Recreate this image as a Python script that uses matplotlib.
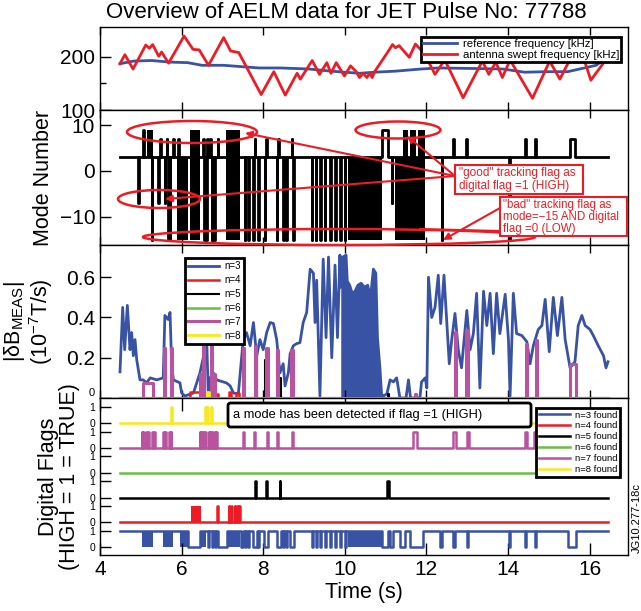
import numpy as np
import matplotlib
matplotlib.use("Agg")
import matplotlib.pyplot as plt
from matplotlib.patches import Ellipse, FancyArrowPatch, FancyBboxPatch

plt.rcParams['font.family'] = ['Liberation Sans', 'DejaVu Sans']
plt.rcParams['mathtext.fontset'] = 'custom'
plt.rcParams['mathtext.rm'] = 'Liberation Sans'
plt.rcParams['mathtext.it'] = 'Liberation Sans:italic'

BLUE = "#3953a4"
RED = "#ed1c24"
GREEN = "#6abd45"
MAGENTA = "#b9529f"
YELLOW = "#f7e91b"

t_first, t_last = 4.49, 16.45

# ---- panel 1: frequencies [kHz]
ref_t = [4.49, 4.83, 5.27, 5.71, 6.15, 6.50, 7.03, 7.55, 7.90, 8.43, 9.13, 9.66,
         10.36, 10.72, 11.24, 11.86, 12.30, 13.18, 13.88, 14.41, 14.93, 15.46,
         15.81, 16.16, 16.45]
ref_f = [187, 192, 193, 190, 189, 184, 184, 181, 179, 179, 177, 173,
         169, 171, 173, 177, 179, 178, 177, 171, 172, 172,
         178, 184, 200]
swp_t = [4.49, 4.61, 4.81, 5.12, 5.21, 5.29, 5.44, 5.51, 5.68, 6.06, 6.28, 6.43,
         6.66, 7.03, 7.20, 7.40, 7.95, 8.26, 8.54, 8.83, 8.91, 9.20, 9.38, 9.56,
         9.66, 9.79, 9.99, 10.14, 10.28, 10.36, 10.45, 10.54, 10.61, 10.67, 10.73,
         11.07, 11.17, 11.24, 11.33, 11.58, 11.73, 11.95, 12.21, 12.45, 12.90,
         13.37, 13.53, 13.70, 13.86, 14.05, 14.60, 15.02, 15.27, 15.55, 15.73,
         16.03, 16.45]
swp_f = [187, 204, 177, 222, 216, 223, 201, 209, 188, 239, 214, 213,
         184, 236, 211, 208, 129, 172, 128, 169, 158, 193, 167, 189,
         169, 189, 164, 183, 172, 161, 169, 161, 169, 161, 172,
         211, 223, 217, 221, 199, 224, 206, 167, 194, 123,
         192, 167, 190, 161, 194, 122, 192, 158, 200, 226,
         156, 200]

# ---- panel 2: mode number
mode_base = 3
mode_spike_t = [4.94, 5.06, 5.27, 5.43, 5.47, 5.59, 5.63, 5.67, 5.71, 5.79, 5.92,
                6.53, 6.55, 6.61, 6.63, 6.70, 6.74, 6.80, 6.88, 7.55, 7.63, 7.76,
                7.79, 7.88, 8.04, 8.08, 8.33, 8.36, 8.49, 8.57, 8.70, 8.73, 9.19,
                9.29, 9.39, 9.51, 9.64, 9.76, 9.88, 10.00, 11.15, 12.37, 12.66,
                12.98, 14.03, 14.42, 14.66]
mode_spike_v = [-7, 9, -15, -7, 7, -7, 7, -15, -15, 7, 7,
                7, -15, -15, 7, 7, -15, -15, 7, -15, -15, -15,
                7, -15, -15, 7, -15, 7, -15, -15, 7, -15, -15,
                -15, -15, -15, -15, -15, -15, -15, -7, -15, 7,
                7, -15, 7, 7]
mode_wide_t0 = [10.92, 15.52]
mode_wide_t1 = [11.06, 15.64]
mode_wide_v = [9, 7]
# intervals of very fast switching between two levels
mode_blk_t0 = [5.15, 5.88, 6.20, 7.10, 10.09, 11.23, 11.43, 11.60, 11.80]
mode_blk_t1 = [5.30, 6.16, 6.45, 7.43, 10.90, 11.97, 11.55, 11.75, 11.96]
mode_blk_lo = [3, -15, -15, -15, -15, -15, 3, 3, 3]
mode_blk_hi = [9, 3, 9, 9, 3, 3, 9, 9, 9]

# ---- panel 3: |dB_MEAS| (1e-7 T/s)
n3_pre_t = [4.49, 4.556, 4.605, 4.67, 4.735, 4.776, 4.817, 4.858, 4.90, 4.98, 5.06,
            5.14, 5.23, 5.39, 5.55, 5.59, 5.67, 5.716, 5.757, 5.80, 5.96, 6.00,
            6.08, 6.29, 6.45, 6.53, 6.615, 6.655, 6.70, 6.78, 6.86, 7.10, 7.19,
            7.27, 7.39, 7.47, 7.51, 7.59, 7.68, 7.76, 7.84, 7.92, 8.00, 8.085,
            8.17, 8.25, 8.33, 8.41, 8.49, 8.535, 8.616, 8.66, 8.74, 8.82, 8.90,
            8.98, 9.065, 9.15, 9.23, 9.27, 9.31, 9.39, 9.47, 9.54, 9.60, 9.68,
            9.76, 9.82, 9.88]
n3_pre_v = [0.13, 0.45, 0.24, 0.46, 0.24, 0.325, 0.21, 0.29, 0.19, 0.09, 0.09,
            0.075, 0.10, 0.09, 0.10, 0.41, 0.39, 0.425, 0.16, 0.09, 0.075, 0.025,
            0.01, 0.025, 0.125, 0.20, 0.29, 0.01, 0.10, 0.125, 0.09, 0.075, 0.06,
            0.025, 0.02, 0.20, 0.29, 0.325, 0.26, 0.375, 0.21, 0.29, 0.24, 0.325,
            0.375, 0.37, 0.29, 0.125, 0.17, 0.06, 0.125, 0.22, 0.26, 0.27, 0.275,
            0.375, 0.425, 0.64, 0.62, 0.375, 0.585, 0.01, 0.69, 0.30, 0.70, 0.20,
            0.66, 0.30, 0.71]
n3_dense_t = [9.90, 9.95, 10.03, 10.06, 10.12, 10.18, 10.25, 10.32, 10.40, 10.48,
              10.56, 10.63, 10.70, 10.76, 10.80, 10.86, 10.90]
n3_dense_v = [0.55, 0.70, 0.71, 0.58, 0.56, 0.52, 0.53, 0.56, 0.57, 0.55,
              0.56, 0.50, 0.64, 0.62, 0.30, 0.15, 0.02]
n3_post_t = [10.94, 11.03, 11.11, 11.19, 11.27, 11.35, 11.50, 11.56, 11.61, 11.84,
             11.88, 11.97, 12.01, 12.05, 12.13, 12.21, 12.29, 12.35, 12.43, 12.50,
             12.56, 12.62, 12.70, 12.78, 12.86, 12.99, 13.07, 13.15, 13.23, 13.31,
             13.40, 13.48, 13.56, 13.64, 13.72, 13.80, 13.93, 14.01, 14.05, 14.13,
             14.21, 14.34, 14.46, 14.54, 14.62, 14.74, 14.83, 14.91, 15.01, 15.11,
             15.21, 15.32, 15.40, 15.52, 15.64, 15.72, 15.81, 15.89, 16.01, 16.09,
             16.21, 16.34, 16.40, 16.45]
n3_post_v = [0.01, 0.02, 0.09, 0.08, 0.10, 0.00, 0.00, 0.09, 0.00, 0.00,
             0.08, 0.10, 0.05, 0.60, 0.40, 0.45, 0.61, 0.37, 0.61, 0.37,
             0.17, 0.29, 0.42, 0.24, 0.15, 0.435, 0.24, 0.32, 0.52, 0.05,
             0.53, 0.36, 0.52, 0.22, 0.52, 0.32, 0.515, 0.29, 0.01, 0.52,
             0.32, 0.31, 0.28, 0.17, 0.26, 0.34, 0.36, 0.49, 0.23, 0.50,
             0.31, 0.50, 0.29, 0.15, 0.18, 0.36, 0.41, 0.36, 0.34, 0.31,
             0.26, 0.21, 0.15, 0.18]
n4_amp_t0 = [6.20, 6.86, 7.16, 7.33]
n4_amp_t1 = [6.45, 6.88, 7.20, 7.40]
n4_amp_v = [0.03, 0.02, 0.03, 0.025]
n5_amp_t = [7.84, 8.05, 8.41, 11.07]
n5_amp_v = [0.25, 0.19, 0.10, 0.02]
n7_amp_t0 = [5.05, 5.57, 5.74, 6.44, 6.52, 6.71, 6.78, 7.51, 7.79, 8.08, 8.33,
             8.69, 11.71, 12.69, 12.98, 14.43, 14.68, 15.52]
n7_amp_t1 = [5.30, 5.60, 5.77, 6.47, 6.55, 6.75, 6.82, 7.54, 7.82, 8.11, 8.36,
             8.72, 11.74, 12.72, 13.01, 14.46, 14.71, 15.67]
n7_amp_v = [0.075, 0.25, 0.25, 0.12, 0.29, 0.30, 0.12, 0.25, 0.26, 0.25, 0.24,
            0.24, 0.02, 0.33, 0.34, 0.27, 0.29, 0.17]
n8_amp_t0 = [6.63]
n8_amp_t1 = [6.68]
n8_amp_v = [0.03]

# ---- panel 4: digital flags
n3_low_t0 = [6.16, 6.65, 6.74, 6.82, 6.88, 7.45, 7.55, 7.63, 7.76, 7.88, 8.02, 8.33,
             8.49, 8.57, 8.66, 9.19, 9.29, 9.39, 9.51, 9.64, 9.76, 9.88, 10.00,
             10.92, 11.10, 11.35, 11.60, 12.33, 12.66, 12.99, 14.03, 14.42, 14.66,
             15.48]
n3_low_t1 = [6.45, 6.67, 6.76, 6.84, 7.12, 7.51, 7.57, 7.65, 7.84, 7.90, 8.12, 8.44,
             8.51, 8.59, 8.76, 9.21, 9.31, 9.41, 9.53, 9.66, 9.78, 9.90, 10.02,
             11.06, 11.19, 11.48, 11.92, 12.37, 12.69, 13.02, 14.06, 14.45, 14.69,
             15.67]
n3_fast_t0 = [5.04, 5.55, 5.96, 6.45, 7.12, 10.09]
n3_fast_t1 = [5.31, 5.80, 6.16, 6.61, 7.43, 10.90]
n4_on_t0 = [6.86, 7.15, 7.22, 7.30, 7.35, 7.40]
n4_on_t1 = [6.88, 7.17, 7.24, 7.32, 7.37, 7.42]
n4_fast_t0 = [6.23]
n4_fast_t1 = [6.47]
n5_on_t0 = [7.80, 8.07, 8.40, 11.03]
n5_on_t1 = [7.82, 8.09, 8.42, 11.09]
n7_on_t0 = [5.02, 5.06, 5.13, 5.18, 5.27, 5.32, 5.55, 5.59, 5.70, 5.73, 6.44, 6.48,
            6.53, 6.57, 6.66, 6.70, 6.74, 6.81, 6.85, 7.51, 7.78, 8.10, 8.35, 8.70,
            11.68, 12.66, 12.99, 14.42, 14.64, 15.52]
n7_on_t1 = [5.04, 5.08, 5.15, 5.20, 5.29, 5.34, 5.57, 5.61, 5.72, 5.75, 6.46, 6.50,
            6.55, 6.59, 6.68, 6.72, 6.76, 6.83, 6.87, 7.53, 7.80, 8.12, 8.37, 8.72,
            11.78, 12.72, 13.05, 14.46, 14.68, 15.67]
n8_on_t0 = [5.75, 6.57, 6.62, 6.73]
n8_on_t1 = [5.77, 6.59, 6.64, 6.75]

flag_labels = ["n=3 found", "n=4 found", "n=5 found", "n=6 found", "n=7 found", "n=8 found"]
amp_labels = ["n=3", "n=4", "n=5", "n=6", "n=7", "n=8"]
flag_offsets = [0, 1.5, 3, 4.5, 6, 7.5]


def step_trace(base, starts, ends, levels):
    order = np.argsort(starts)
    xs, ys = [t_first], [base]
    for i in order:
        xs += [starts[i], starts[i], ends[i], ends[i]]
        ys += [base, levels[i], levels[i], base]
    xs.append(t_last)
    ys.append(base)
    return np.array(xs), np.array(ys)


def px(x, y):
    return x / 641, 1 - y / 611


fig = plt.figure(figsize=(6.41, 6.11), dpi=100)


def rect(top, bottom):
    return [100 / 641, 1 - bottom / 611, 528 / 641, (bottom - top) / 611]


ax1 = fig.add_axes(rect(27, 110))
ax2 = fig.add_axes(rect(110, 245))
ax3 = fig.add_axes(rect(245, 398))
ax4 = fig.add_axes(rect(398, 555))
axes = [ax1, ax2, ax3, ax4]

# panel 1
ax1.plot(ref_t, ref_f, color=BLUE, lw=2, label="reference frequency [kHz]")
ax1.plot(swp_t, swp_f, color=RED, lw=2, label="antenna swept frequency [kHz]")
ax1.set_ylim(100, 256)
ax1.set_yticks([100, 200])
ax1.set_yticks([150], minor=True)
leg = ax1.legend(loc="upper right", bbox_to_anchor=px(627, 31), bbox_transform=fig.transFigure,
                 fontsize=8.2, handlelength=3.0, handletextpad=0.5, labelspacing=0.1,
                 borderpad=0.2, fancybox=False, edgecolor="black", framealpha=1)
leg.get_frame().set_linewidth(2)

# panel 2
s = list(mode_spike_t) + mode_wide_t0
e = [t + 0.015 for t in mode_spike_t] + mode_wide_t1
v = list(mode_spike_v) + mode_wide_v
mx, my = step_trace(mode_base, s, e, v)
ax2.plot(mx, my, color="black", lw=2)
for a, b, lo, hi in zip(mode_blk_t0, mode_blk_t1, mode_blk_lo, mode_blk_hi):
    ax2.fill_between([a, b], lo, hi, color="black", lw=0)
ax2.set_ylim(-16.2, 13.3)
ax2.set_yticks([-10, 0, 10])
ax2.set_ylabel("Mode Number", fontsize=15.5)
ax2.yaxis.set_label_coords(-0.087, 0.5)

# panel 3
ax3.fill_between(n3_dense_t, 0, n3_dense_v, color=BLUE, lw=0)
ax3.plot(n3_pre_t + n3_dense_t + n3_post_t, n3_pre_v + n3_dense_v + n3_post_v,
         color=BLUE, lw=2, label=amp_labels[0])
x4, y4 = step_trace(0, n4_amp_t0, n4_amp_t1, n4_amp_v)
ax3.plot(x4, y4, color=RED, lw=1.8, label=amp_labels[1])
x5, y5 = step_trace(0, n5_amp_t, [t + 0.015 for t in n5_amp_t], n5_amp_v)
ax3.plot(x5, y5, color="black", lw=1.5, label=amp_labels[2])
ax3.plot([t_first, t_last], [0, 0], color=GREEN, lw=1.8, label=amp_labels[3])
x7, y7 = step_trace(0, n7_amp_t0, n7_amp_t1, n7_amp_v)
ax3.plot(x7, y7, color=MAGENTA, lw=2.2, label=amp_labels[4])
x8, y8 = step_trace(0, n8_amp_t0, n8_amp_t1, n8_amp_v)
ax3.plot(x8, y8, color=YELLOW, lw=2, label=amp_labels[5])
ax3.set_ylim(0, 0.76)
ax3.set_yticks([0, 0.2, 0.4, 0.6])
ax3.set_yticklabels(["0", "0.2", "0.4", "0.6"])
ax3.set_ylabel("|δB$_{\\mathrm{MEAS}}$|\n(10$^{\\mathrm{-7}}$T/s)", fontsize=15.5, linespacing=1.0)
ax3.yaxis.set_label_coords(-0.085, 0.5)
leg = ax3.legend(loc="upper left", bbox_to_anchor=px(180, 253), bbox_transform=fig.transFigure,
                 fontsize=7, handlelength=3.2, handletextpad=0.5, labelspacing=0.4,
                 borderpad=0.35, fancybox=False, edgecolor="black", framealpha=1)
leg.get_frame().set_linewidth(2)

# panel 4
colors = [BLUE, RED, "black", GREEN, MAGENTA, YELLOW]
on_t0 = [None, n4_on_t0, n5_on_t0, [], n7_on_t0, n8_on_t0]
on_t1 = [None, n4_on_t1, n5_on_t1, [], n7_on_t1, n8_on_t1]
fast_t0 = [n3_fast_t0, n4_fast_t0, [], [], [], []]
fast_t1 = [n3_fast_t1, n4_fast_t1, [], [], [], []]
for k in range(6):
    off = flag_offsets[k]
    if k == 0:
        fx, fy = step_trace(off + 1, n3_low_t0, n3_low_t1, [off] * len(n3_low_t0))
    else:
        fx, fy = step_trace(off, on_t0[k], on_t1[k], [off + 1] * len(on_t0[k]))
    ax4.plot(fx, fy, color=colors[k], lw=1.8, label=flag_labels[k])
    for a, b in zip(fast_t0[k], fast_t1[k]):
        ax4.fill_between([a, b], off, off + 1, color=colors[k], lw=0)
ax4.set_ylim(-0.48, 9.03)
ticks = []
for off in flag_offsets:
    ticks += [off, off + 1]
ax4.set_yticks(ticks)
ax4.set_yticklabels(["0", "1"] * 6, fontsize=7.5)
ax4.set_ylabel("Digital Flags\n(HIGH = 1 = TRUE)", fontsize=15.5, linespacing=1.0)
ax4.yaxis.set_label_coords(-0.038, 0.5)
ax4.set_xlabel("Time (s)", fontsize=15.5, labelpad=2)
leg = ax4.legend(loc="upper right", bbox_to_anchor=px(625, 403), bbox_transform=fig.transFigure,
                 fontsize=6.8, handlelength=3.3, handletextpad=0.5, labelspacing=0.2,
                 borderpad=0.3, fancybox=False, edgecolor="black", framealpha=1)
leg.get_frame().set_linewidth(2)

for ax in axes:
    ax.set_xlim(4, 16.94)
    ax.set_xticks(range(4, 17, 2))
    ax.tick_params(axis="x", direction="in", top=True, length=6, width=1, labelsize=15)
    ax.tick_params(axis="y", which="major", direction="in", length=8, width=1)
    ax.tick_params(axis="y", which="minor", direction="in", length=4, width=1)
    for sp in ax.spines.values():
        sp.set_linewidth(1)
for ax in [ax1, ax2, ax3]:
    ax.tick_params(axis="x", labelbottom=False)
for ax in [ax1, ax2]:
    ax.tick_params(axis="y", labelsize=15)
ylabs = ax3.get_yticklabels()
for lab in ylabs[1:]:
    lab.set_fontsize(15)
ylabs[0].set_fontsize(8)
ylabs[0].set_verticalalignment("bottom")
ax4.tick_params(axis="x", length=9)

fig.text(*px(346, 12), "Overview of AELM data for JET Pulse No: 77788",
         ha="center", va="center", fontsize=16)
fig.text(*px(637, 518), "JG10.277-18c", rotation=90, ha="center", va="center", fontsize=8)

# annotations on the mode panel
for cx, cy, w, h in [(192, 132, 130, 22), (398, 130, 85, 17), (159, 199, 82, 18), (339, 237, 392, 16)]:
    fig.add_artist(Ellipse(px(cx, cy), w / 641, h / 611, transform=fig.transFigure,
                           fill=False, ec=RED, lw=1.8))
for (x0, y0), (x1, y1), head in [((455, 176), (245, 133), True), ((455, 176), (407, 136), True),
                                 ((455, 176), (165, 199), True), ((500, 208), (443, 240), True),
                                 ((500, 231), (420, 229), False)]:
    fig.add_artist(FancyArrowPatch(px(x0, y0), px(x1, y1), transform=fig.transFigure,
                                   arrowstyle="-|>" if head else "-", mutation_scale=10,
                                   color=RED, lw=1.5, shrinkA=0, shrinkB=0))

fig.add_artist(FancyBboxPatch(px(455, 194), 128 / 641, 29 / 611, boxstyle="square,pad=0",
                              transform=fig.transFigure, fc="white", ec=RED, lw=1.5))
fig.text(*px(459, 179.5), "\"good\" tracking flag as\ndigital flag =1 (HIGH)", color=RED,
         ha="left", va="center", fontsize=8.5, linespacing=1.05)
fig.add_artist(FancyBboxPatch(px(500, 236), 127 / 641, 39 / 611, boxstyle="square,pad=0",
                              transform=fig.transFigure, fc="white", ec=RED, lw=1.5))
fig.text(*px(503, 216.5), "\"bad\" tracking flag as\nmode=\u221215 AND digital\nflag =0 (LOW)",
         color=RED, ha="left", va="center", fontsize=8.3, linespacing=1.0)

fig.add_artist(FancyBboxPatch(px(228, 427), 303 / 641, 24 / 611,
                              boxstyle="round,pad=0,rounding_size=0.004",
                              transform=fig.transFigure, fc="white", ec="black", lw=2))
fig.text(*px(233, 415), "a mode has been detected if flag =1 (HIGH)", ha="left", va="center",
         fontsize=9.3)

fig.savefig("out.png", dpi=100)
